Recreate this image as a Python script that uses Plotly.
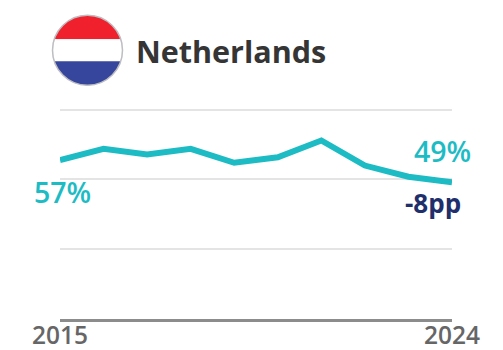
import math
import plotly.graph_objects as go

# Share of the vote by year, percent
years = [2015, 2016, 2017, 2018, 2019, 2020, 2021, 2022, 2023, 2024]
values = [57, 61, 59, 61, 56, 58, 64, 55, 51, 49]
grid_values = [25, 50, 75]
year_ticks = [2015, 2024]
country = "Netherlands"
first_label = "57%"
last_label = "49%"
change_label = "-8pp"

TEAL = "#1dbcc4"
NAVY = "#1f2f6b"
W, H = 503, 350
FONT = "Open Sans"

fig = go.Figure()
fig.add_trace(go.Scatter(
    x=years, y=values, mode="lines", cliponaxis=False, hoverinfo="skip",
    line=dict(color=TEAL, width=6, shape="linear"),
))
# Invisible 1:1 pixel axes that carry the round flag badge
fig.add_trace(go.Scatter(x=[0], y=[0], xaxis="x2", yaxis="y2", mode="markers",
                         marker=dict(opacity=0), hoverinfo="skip"))

CX, CY, R = 87.5, 50.2, 35
BAND = 11


def band_path(top, bottom):
    """Outline of the disc between two horizontal offsets from its centre."""
    pts = []
    steps = 40
    a0, a1 = math.asin(top / R), math.asin(bottom / R)
    for i in range(steps + 1):
        a = a0 + (a1 - a0) * i / steps
        pts.append((CX + R * math.cos(a), CY + R * math.sin(a)))
    for i in range(steps + 1):
        a = a1 + (a0 - a1) * i / steps
        pts.append((CX - R * math.cos(a), CY + R * math.sin(a)))
    return "M " + " L ".join(f"{x:.2f} {y:.2f}" for x, y in pts) + " Z"


stripes = [(band_path(-R, -BAND), "#f0202c"),
           (band_path(-BAND, BAND), "#ffffff"),
           (band_path(BAND, R), "#35469c")]
shapes = [dict(type="path", path=p, xref="x2", yref="y2", fillcolor=c,
               line=dict(width=0), layer="above") for p, c in stripes]
shapes.append(dict(type="circle", xref="x2", yref="y2", x0=CX-R, x1=CX+R, y0=CY-R, y1=CY+R,
                   line=dict(color="#bdbdc2", width=1.5), layer="above"))

annotations = [
    dict(text=country, x=134, y=51, xref="x2", yref="y2", xanchor="left",
         yanchor="middle", showarrow=False,
         font=dict(family=FONT, size=30.5, weight=700, color="#353535")),
    dict(text=first_label, x=years[0], y=values[0], xref="x", yref="y", xanchor="center",
         yanchor="middle", xshift=2, yshift=-32, showarrow=False,
         font=dict(family=FONT, size=28.5, weight=600, color=TEAL)),
    dict(text=last_label, x=years[-1], y=values[-1], xref="x", yref="y", xanchor="center",
         yanchor="middle", xshift=-10, yshift=31, showarrow=False,
         font=dict(family=FONT, size=28.5, weight=600, color=TEAL)),
    dict(text=change_label, x=years[-1], y=values[-1], xref="x", yref="y", xanchor="center",
         yanchor="middle", xshift=-19, yshift=-21, showarrow=False,
         font=dict(family=FONT, size=26, weight=700, color=NAVY)),
]

fig.update_layout(
    template="none",
    width=W, height=H, margin=dict(l=0, r=0, t=0, b=0), autosize=False,
    paper_bgcolor="white", plot_bgcolor="rgba(0,0,0,0)", showlegend=False,
    font=dict(family=FONT), shapes=shapes, annotations=annotations,
    xaxis=dict(domain=[60/W, 452/W], range=[2015, 2024], tickmode="array",
               tickvals=year_ticks, ticktext=[str(v) for v in year_ticks],
               ticks="", showgrid=False, zeroline=False, showline=True, automargin=False,
               linecolor="#8c8c8c", linewidth=2.5, anchor="y", ticklabelstandoff=-7,
               tickfont=dict(family=FONT, size=24.5, weight=600, color="#666666")),
    # The range runs just past the last gridline so that line is still drawn
    yaxis=dict(domain=[(H-318.7)/H, (H-108.5)/H], range=[0, 75.5], tickmode="array",
               tickvals=grid_values, showticklabels=False, ticks="", showgrid=True,
               automargin=False,
               gridcolor="#e4e4e4", gridwidth=1.5, zeroline=False, showline=False, anchor="x"),
    xaxis2=dict(domain=[0, 1], range=[0, W], visible=False, anchor="y2", automargin=False),
    yaxis2=dict(domain=[0, 1], range=[H, 0], visible=False, anchor="x2", automargin=False),
)

fig.write_html("out.html", config=dict(displayModeBar=False))
